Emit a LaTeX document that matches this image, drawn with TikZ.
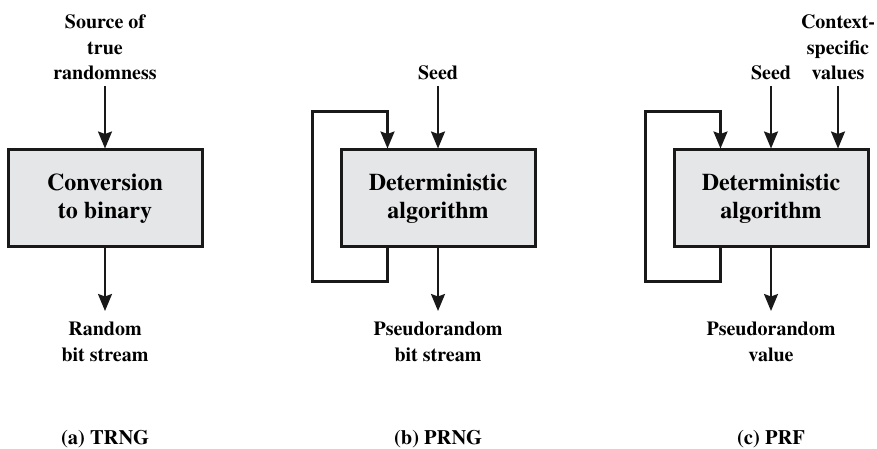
\documentclass[tikz,border=0pt]{standalone}
\usepackage{fontspec}
\setmainfont{texgyretermes}[Extension=.otf,UprightFont=*-regular,BoldFont=*-bold]
\usepackage{tikz}
\usetikzlibrary{arrows.meta}

\definecolor{boxgray}{RGB}{229,230,232}

\begin{document}
\begin{tikzpicture}[x=1pt,y=1pt,
	blk/.style={draw=black!90,line width=3pt,fill=boxgray,minimum width=194pt,minimum height=97pt,
		align=center,font=\fontsize{24}{28}\selectfont\bfseries},
	lbl/.style={align=center,inner sep=0pt,font=\fontsize{20}{25.5}\selectfont\bfseries},
	subcap/.style={anchor=base,inner sep=0pt,font=\fontsize{20.5}{24}\selectfont\bfseries},
	arr/.style={draw=black!90,line width=2pt,-{Stealth[length=17pt,width=14pt,inset=2.5pt]}},
	fb/.style={draw=black!90,line width=2.3pt,-{Stealth[length=17pt,width=14pt,inset=2.5pt]}}]

		\useasboundingbox (0,0) rectangle (877,449);

		%(a) TRNG
		\node[blk] (conv) at (105,250.5) {Conversion\\to binary};
		\node[lbl,anchor=south] (src) at (105,369) {Source of\\true\\randomness};
		\node[lbl,anchor=north] (rnd) at (105,127) {Random\\bit stream};
		\node[subcap] (capa) at (105,4) {(a) TRNG};
		\draw[arr,shorten <=6pt] (src.south) -- (conv.north);
		\draw[arr,shorten >=11pt] (conv.south) -- (rnd.north);

		%(b) PRNG
		\node[blk] (prng) at (438,250.5) {Deterministic\\algorithm};
		\node[lbl,anchor=south] (seedb) at (438,369) {Seed};
		\node[lbl,anchor=north] (outb) at (438,127) {Pseudorandom\\bit stream};
		\node[subcap] (capb) at (438,4) {(b) PRNG};
		\draw[arr,shorten <=6pt] (seedb.south) -- (prng.north);
		\draw[arr,shorten >=11pt] (prng.south) -- (outb.north);
		\draw[fb] ([xshift=48pt]prng.south west) |- ++(-75,-33)
			|- ([xshift=48pt,yshift=37pt]prng.north west) -- ([xshift=48pt]prng.north west);

		%(c) PRF
		\node[blk] (prf) at (771,250.5) {Deterministic\\algorithm};
		\node[lbl,anchor=south] (seedc) at (771,369) {Seed};
		\node[lbl,anchor=south] (ctx) at (838,369) {Context-\\specific\\values};
		\node[lbl,anchor=north] (outc) at (771,127) {Pseudorandom\\value};
		\node[subcap] (capc) at (771,4) {(c) PRF};
		\draw[arr,shorten <=6pt] (seedc.south) -- (prf.north);
		\draw[arr,shorten <=6pt] (ctx.south) -- (ctx.south |- prf.north);
		\draw[arr,shorten >=11pt] (prf.south) -- (outc.north);
		\draw[fb] ([xshift=48pt]prf.south west) |- ++(-75,-33)
			|- ([xshift=48pt,yshift=37pt]prf.north west) -- ([xshift=48pt]prf.north west);

\end{tikzpicture}
\end{document}
